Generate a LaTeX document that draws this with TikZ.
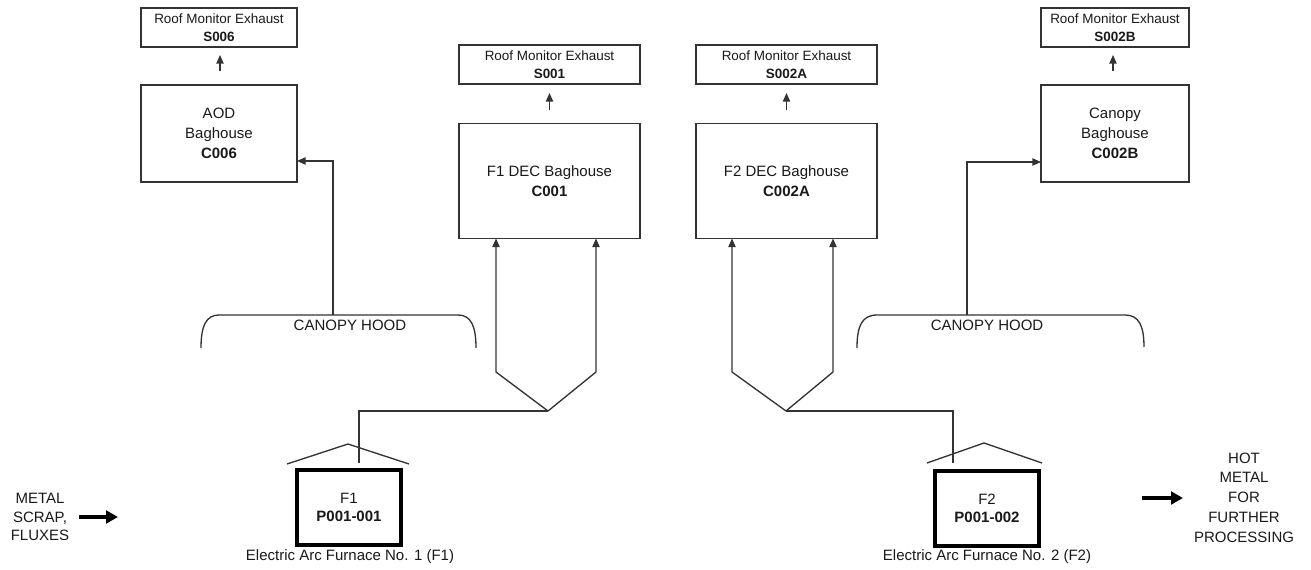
\documentclass[tikz,border=0pt]{standalone}
\usepackage{fontspec}
\setmainfont{Liberation Sans}
\usetikzlibrary{arrows.meta,calc}
\begin{document}
\begin{tikzpicture}[x=0.75pt,y=-0.75pt,
  every node/.style={inner sep=0pt,outer sep=0pt,text=black!90},
  roofbox/.style={draw=black!80,line width=1.1pt,minimum height=29.25pt,align=center,font=\fontsize{10.1}{13.5}\selectfont},
  bagbox/.style={draw=black!80,line width=1.1pt,align=center,font=\fontsize{11.25}{15}\selectfont},
  furnace/.style={draw=black,line width=3pt,minimum width=78pt,minimum height=56.25pt,align=center,font=\fontsize{11.25}{13.5}\selectfont},
  lbl/.style={align=center,font=\fontsize{11.25}{14}\selectfont},
  duct/.style={draw=black!80,line width=1pt},
  arr/.style={-{Triangle[length=6.5pt,width=5.5pt]}},
  bigarr/.style={draw=black,line width=2.6pt,-{Triangle[length=9pt,width=9.5pt]}}
]
\useasboundingbox (0,0) rectangle (1311,570);

% Roof monitor exhausts
\node[roofbox,minimum width=117pt] (S006) at (219,27.5) {Roof Monitor Exhaust\\\textbf{S006}};
\node[roofbox,minimum width=135.75pt] (S001) at (549.5,64.5) {Roof Monitor Exhaust\\\textbf{S001}};
\node[roofbox,minimum width=135.75pt] (S002A) at (786.5,64.5) {Roof Monitor Exhaust\\\textbf{S002A}};
\node[roofbox,minimum width=111pt] (S002B) at (1115,27.5) {Roof Monitor Exhaust\\\textbf{S002B}};

% Baghouses
\node[bagbox,minimum width=117pt,minimum height=72.75pt] (C006) at (219,133.5) {AOD\\Baghouse\\\textbf{C006}};
\node[bagbox,minimum width=135.75pt,minimum height=86.25pt] (C001) at (549.5,181) {F1 DEC Baghouse\\\textbf{C001}};
\node[bagbox,minimum width=135.75pt,minimum height=86.25pt] (C002A) at (786.5,181) {F2 DEC Baghouse\\\textbf{C002A}};
\node[bagbox,minimum width=111pt,minimum height=72.75pt] (C002B) at (1115,133.5) {Canopy\\Baghouse\\\textbf{C002B}};

% Baghouse -> exhaust arrows
\draw[duct,arr] ($(C006.north)+(1,-14)$) -- ($(S006.south)+(1,8)$);
\draw[duct,arr] ($(C001.north)+(0,-13)$) -- ($(S001.south)+(0,9)$);
\draw[duct,arr] ($(C002A.north)+(0,-13)$) -- ($(S002A.south)+(0,9)$);
\draw[duct,arr] ($(C002B.north)+(-2,-14)$) -- ($(S002B.south)+(-2,8)$);

% Canopy hoods
\draw[duct] (201,348) .. controls (201,326) and (206,315) .. (219,315) -- (458,315) .. controls (471,315) and (476,326) .. (476,348);
\draw[duct] (857,348) .. controls (857,326) and (862,315) .. (877,315) -- (1125,315) .. controls (1139,315) and (1144,326) .. (1144,347);
\node[lbl] (hoodtxtL) at (350,325) {CANOPY HOOD};
\node[lbl] (hoodtxtR) at (987,325) {CANOPY HOOD};
\coordinate (hoodL) at (333,315);
\coordinate (hoodR) at (967,315);
\draw[duct,arr] (hoodL) |- ($(C006.south east)+(0,-21)$);
\draw[duct,arr] (hoodR) |- ($(C002B.south west)+(0,-20)$);

% Furnaces
\node[furnace] (F1) at (349,507.5) {F1\\\textbf{P001-001}};
\node[furnace] (F2) at (987,508) {F2\\\textbf{P001-002}};
\node[lbl] (F1lbl) at (350,557) {Electric Arc Furnace No. 1 (F1)};
\node[lbl] (F2lbl) at (987,557) {Electric Arc Furnace No. 2 (F2)};

% Furnace hoods
\draw[duct] (287,464) -- (348,444) -- (409,464);
\draw[duct] (927,463) -- (984,443) -- (1042,463);

% DEC ducts
\coordinate (d1) at (359,463);
\coordinate (j1) at (548,411);
\coordinate (a1) at (496,372);
\coordinate (b1) at (596,372);
\draw[duct] (d1) |- (j1);
\draw[duct,arr] (j1) -- (a1) -- (a1 |- C001.south);
\draw[duct,arr] (j1) -- (b1) -- (b1 |- C001.south);

\coordinate (d2) at (953,463);
\coordinate (j2) at (786,411);
\coordinate (a2) at (732,372);
\coordinate (b2) at (833,372);
\draw[duct] (d2) |- (j2);
\draw[duct,arr] (j2) -- (a2) -- (a2 |- C002A.south);
\draw[duct,arr] (j2) -- (b2) -- (b2 |- C002A.south);

% Input / output
\node[lbl] (metal) at (40,517) {METAL\\SCRAP,\\FLUXES};
\node[lbl,font=\fontsize{11.25}{14.8}\selectfont] (hot) at (1244,497.5) {HOT\\METAL\\FOR\\FURTHER\\PROCESSING};
\coordinate (inend) at (118,517);
\coordinate (outstart) at (1142,498);
\draw[bigarr] ($(metal.east)+(10,0)$) -- (inend);
\draw[bigarr] (outstart) -- ($(hot.west)+(-11,0.5)$);
\end{tikzpicture}
\end{document}
